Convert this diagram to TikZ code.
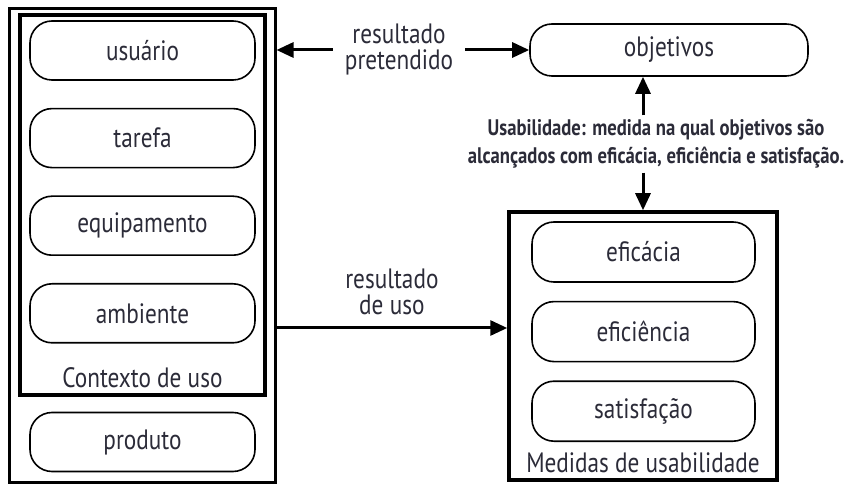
\documentclass[tikz,border=0pt]{standalone}
\usepackage{fontspec}
\setmainfont[FakeStretch=0.83]{PT Sans}
\usetikzlibrary{arrows.meta, positioning, fit}
\definecolor{textdark}{HTML}{2B2B38}
\tikzset{
  % rounded item boxes
  pill/.style={
    draw, rounded corners=22pt,
    minimum width=225pt, minimum height=59pt,
    font=\fontsize{28}{27}\selectfont, text=textdark,
    line width=1.6pt,
  },
  % group frames
  framebox/.style={draw, line width=#1, inner sep=0pt},
  % labels
  grouplbl/.style={font=\fontsize{28}{27}\selectfont, text=textdark},
  lbl/.style={font=\fontsize{28}{26}\selectfont, text=textdark,
              align=center, inner sep=12pt},
  deflbl/.style={font=\bfseries\fontsize{22.5}{28}\selectfont, text=textdark,
                 align=center, inner sep=4pt},
  % arrows
  arr/.style={-{Triangle[length=17pt, width=15pt]}, line width=3pt},
}
\begin{document}
\begin{tikzpicture}[x=1pt, y=-1pt, node distance=27pt]
  \useasboundingbox (0,0) rectangle (855,489);
  % Contexto de uso
  \node[pill] (usuario) at (142.5,50.5) {usuário};
  \node[pill, below=of usuario] (tarefa) {tarefa};
  \node[pill, below=of tarefa] (equip) {equipamento};
  \node[pill, below=of equip] (ambiente) {ambiente};
  \node[grouplbl] (ctxlbl) at (142.5,378) {Contexto de uso};
  \node[framebox=4pt, fit={(20,15) (265,395)}] (ctx) {};
  \node[pill] (produto) at (142.5,442) {produto};
  \node[framebox=3pt, fit={(9,9) (275,482)}] (sys) {};

  % objetivos
  \node[pill, minimum width=278pt, minimum height=52pt] (objetivos)
    at (669,50) {objetivos};
  \node[lbl] (pretend) at (399,50) {resultado\\pretendido};
  \draw[arr] (pretend) -- (sys.east |- pretend);
  \draw[arr] (pretend) -- (objetivos);

  % Medidas de usabilidade
  \node[pill, minimum width=223pt, minimum height=60pt] (eficacia)
    at (643.5,252) {eficácia};
  \node[pill, minimum width=223pt, minimum height=60pt,
        below=18pt of eficacia] (eficien) {eficiência};
  \node[pill, minimum width=223pt, minimum height=60pt,
        below=18pt of eficien] (satisf) {satisfação};
  \node[grouplbl] (medlbl) at (643,463) {Medidas de usabilidade};
  \node[framebox=3.5pt, fit={(509,212) (777,480)}] (med) {};

  \node[deflbl] (usab) at (656,144)
    {Usabilidade: medida na qual objetivos são\\
     alcançados com eficácia, eficiência e satisfação.};
  \draw[arr] (usab.north -| med.north) -- (objetivos.south -| med.north);
  \draw[arr] (usab.south -| med.north) -- (med.north);

  % resultado de uso
  \coordinate (usoy) at (0,328);
  \draw[arr] (sys.east |- usoy) -- node[lbl, above=0pt] (uso)
    {resultado\\de uso} (med.west |- usoy);
\end{tikzpicture}
\end{document}
